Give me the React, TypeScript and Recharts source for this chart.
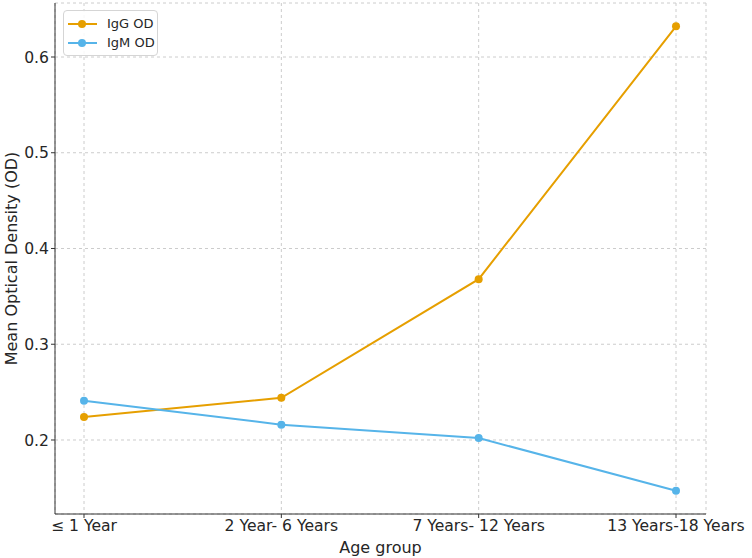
import React from "react";
import { LineChart, Line, XAxis, YAxis, CartesianGrid } from "recharts";

const categories = ["≤ 1 Year", "2 Year- 6 Years", "7 Years- 12 Years", "13 Years-18 Years"];
const igG = [0.224, 0.244, 0.368, 0.632];
const igM = [0.241, 0.216, 0.202, 0.147];
const yTicks = [0.2, 0.3, 0.4, 0.5, 0.6];
const seriesNames = ["IgG OD", "IgM OD"];

const data = categories.map((c, i) => ({ name: c, igg: igG[i], igm: igM[i] }));

const ORANGE = "#E69F00";
const BLUE = "#56B4E9";
const FONT = "DejaVu Sans";
const TEXT = "#262626";

const LegendBox = () => (
  <div
    style={{
      position: "absolute",
      left: 63,
      top: 10,
      width: 95,
      boxSizing: "border-box",
      border: "1px solid #d5d5d5",
      borderRadius: 4,
      background: "rgba(255,255,255,0.85)",
      padding: "3px 0 3px 4px",
      fontFamily: FONT,
      fontSize: 13,
      color: TEXT,
    }}
  >
    {[
      { label: seriesNames[0], color: ORANGE },
      { label: seriesNames[1], color: BLUE },
    ].map((e) => (
      <div key={e.label} style={{ display: "flex", alignItems: "center", height: 19 }}>
        <svg width={29} height={10} style={{ marginRight: 10 }}>
          <line x1={0} y1={5} x2={29} y2={5} stroke={e.color} strokeWidth={2} />
          <circle cx={14} cy={5} r={4} fill={e.color} />
        </svg>
        <span>{e.label}</span>
      </div>
    ))}
  </div>
);

export default function App() {
  return (
    <div style={{ position: "absolute", left: 0, top: 0, width: 752, height: 558, background: "#fff" }}>
      <LineChart
        width={752}
        height={558}
        data={data}
        margin={{ top: 3, right: 46, bottom: 0, left: 0 }}
      >
        <CartesianGrid stroke="#cccccc" strokeDasharray="3 3" vertical horizontal />
        <XAxis
          dataKey="name"
          padding={{ left: 29, right: 30 }}
          height={44}
          tickSize={4}
          tickMargin={2}
          stroke="#333"
          tick={{ fill: TEXT, fontSize: 15.6, fontFamily: FONT }}
          interval={0}
          label={{ value: "Age group", position: "insideBottom", offset: 5, fill: TEXT, fontSize: 16, fontFamily: FONT }}
        />
        <YAxis
          type="number"
          domain={[0.1227, 0.6564]}
          ticks={yTicks}
          width={55}
          tickSize={4}
          tickMargin={2}
          stroke="#333"
          tick={{ fill: TEXT, fontSize: 15.6, fontFamily: FONT }}
          tickFormatter={(v: number) => v.toFixed(1)}
          allowDataOverflow
          label={{
            value: "Mean Optical Density (OD)",
            angle: -90,
            position: "insideLeft",
            offset: 11,
            style: { textAnchor: "middle" },
            fill: TEXT,
            fontSize: 16,
            fontFamily: FONT,
          }}
        />
        <Line
          type="linear"
          dataKey="igg"
          name={seriesNames[0]}
          stroke={ORANGE}
          strokeWidth={2}
          dot={{ r: 4, fill: ORANGE, stroke: ORANGE, strokeWidth: 0 }}
          isAnimationActive={false}
        />
        <Line
          type="linear"
          dataKey="igm"
          name={seriesNames[1]}
          stroke={BLUE}
          strokeWidth={2}
          dot={{ r: 4, fill: BLUE, stroke: BLUE, strokeWidth: 0 }}
          isAnimationActive={false}
        />
      </LineChart>
      <LegendBox />
    </div>
  );
}
